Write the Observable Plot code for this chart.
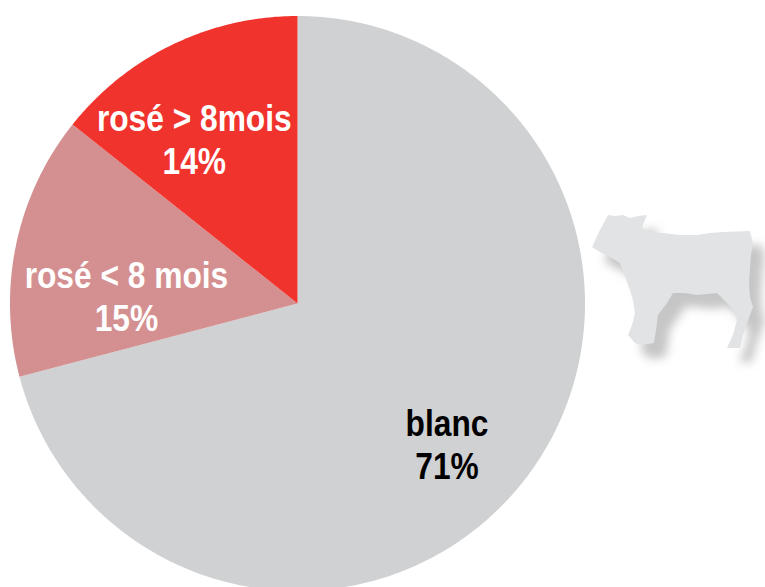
<!DOCTYPE html>
<html><head><meta charset="utf-8">
<script src="https://cdn.jsdelivr.net/npm/d3@7"></script>
<script src="https://cdn.jsdelivr.net/npm/@observablehq/plot@0.6"></script>
<style>html,body{margin:0;padding:0;background:#fff}svg{display:block}</style>
</head><body>
<div id="chart"></div>
<script>
const categories = ["blanc", "rosé < 8 mois", "rosé > 8mois"];
const values = [70.9, 14.8, 14.3];
const shownPercent = ["71%", "15%", "14%"];
const colors = ["#cfd1d3", "#d49091", "#f1332d"];
const textColors = ["#000000", "#ffffff", "#ffffff"];
const labelX = [0.52, -0.595, -0.359];
const nameY = [-0.418, 0.094, 0.641];
const percentY = [-0.568, -0.056, 0.491];

const pie = d3.pie().value(d => d).sort(null)(values);
const sliceRows = [];
pie.forEach((s, i) => {
  sliceRows.push({cat: categories[i], x: 0, y: 0});
  const n = Math.ceil((s.endAngle - s.startAngle) * 90);
  for (let k = 0; k <= n; k++) {
    const a = s.startAngle + (s.endAngle - s.startAngle) * k / n;
    sliceRows.push({cat: categories[i], x: Math.sin(a), y: Math.cos(a)});
  }
  sliceRows.push({cat: categories[i], x: 0, y: 0});
});
const labelRows = categories.flatMap((c, i) => [
  {text: c, x: labelX[i], y: nameY[i], color: textColors[i]},
  {text: shownPercent[i], x: labelX[i], y: percentY[i], color: textColors[i]}
]);

// decorative calf silhouette, in page pixels
const calf = [[608,215],[615,216],[623,215],[630,218],[638,216],[647,215],[644,222],[642,228],[650,232],[663,233],[680,235],[697,235],[710,233],[723,232],[750,231],[753,243],[751,255],[750,267],[749,283],[750,297],[753,307],[747,323],[743,335],[740,348],[727,348],[733,335],[737,320],[733,310],[727,303],[717,293],[707,294],[697,295],[685,293],[673,293],[667,303],[658,315],[656,330],[654,343],[640,345],[635,343],[628,335],[632,325],[635,313],[633,300],[630,290],[625,276],[620,263],[610,257],[600,252],[592,247],[596,238],[600,230]];

function calfMark() {
  const ns = "http://www.w3.org/2000/svg";
  const g = document.createElementNS(ns, "g");
  const defs = document.createElementNS(ns, "defs");
  defs.innerHTML = '<filter id="calfBlur" x="-20%" y="-20%" width="140%" height="140%"><feGaussianBlur stdDeviation="5"/></filter><filter id="calfSoft"><feGaussianBlur stdDeviation="0.7"/></filter>';
  g.appendChild(defs);
  const d = d3.line()(calf) + "Z";
  const shadow = document.createElementNS(ns, "path");
  shadow.setAttribute("d", d);
  shadow.setAttribute("fill", "#c6c6c6");
  shadow.setAttribute("transform", "translate(12,14)");
  shadow.setAttribute("filter", "url(#calfBlur)");
  const body = document.createElementNS(ns, "path");
  body.setAttribute("d", d);
  body.setAttribute("fill", "#e2e3e4");
  body.setAttribute("filter", "url(#calfSoft)");
  g.append(shadow, body);
  return g;
}

const chart = Plot.plot({
  width: 765, height: 587, margin: 0,
  style: {background: "#fff", overflow: "hidden"},
  x: {domain: [-1, 1], range: [9.5, 584.5], axis: null},
  y: {domain: [-1, 1], range: [590.5, 15.5], axis: null},
  color: {domain: categories, range: colors},
  marks: [
    calfMark,
    Plot.line(sliceRows, {x: "x", y: "y", z: "cat", fill: "cat", stroke: null, curve: "linear"}),
    Plot.text(labelRows, {
      x: "x", y: "y", text: "text", fill: "color",
      fontFamily: "'Liberation Sans', sans-serif",
      fontWeight: 700, fontSize: 37, textAnchor: "middle"
    })
  ]
});
document.getElementById("chart").appendChild(chart);
// the original type is a condensed bold: narrow each label's glyphs
chart.querySelectorAll("text").forEach(t => {
  t.setAttribute("textLength", (t.getComputedTextLength() * 0.857).toFixed(1));
  t.setAttribute("lengthAdjust", "spacingAndGlyphs");
});
</script>
</body></html>
